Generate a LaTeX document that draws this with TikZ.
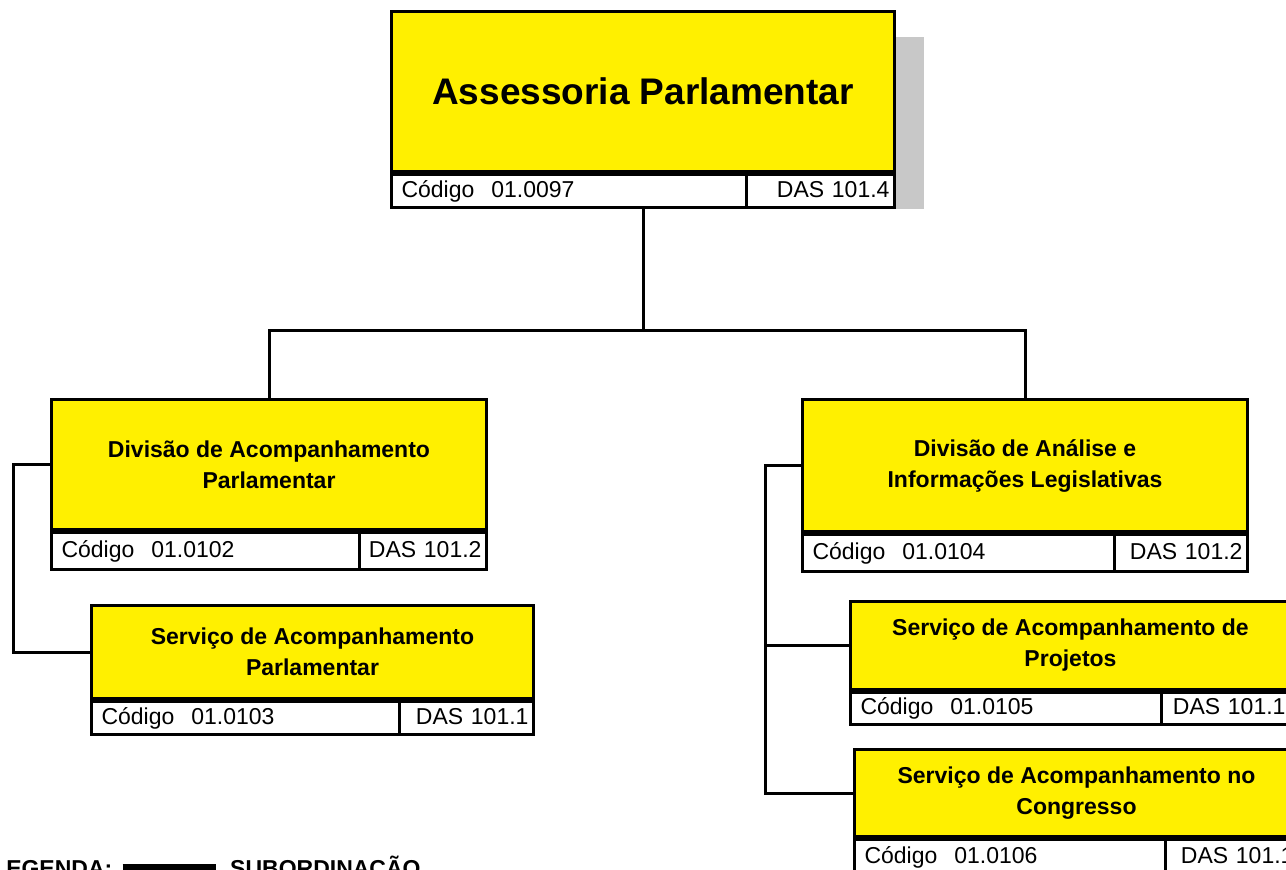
\documentclass[tikz,border=0pt]{standalone}
\usepackage{fontspec}
\setmainfont{Liberation Sans}
\usetikzlibrary{calc,positioning}

\tikzset{
  orgbox/.style={draw, line width=3pt, fill=orgyellow, align=center, inner sep=0pt,
    font=\fontsize{23}{31}\selectfont\bfseries},
  codebox/.style={draw, line width=3pt, fill=white, align=left, inner xsep=10pt, inner ysep=0pt,
    text height=16.5pt, text depth=4.5pt, font=\fontsize{23}{27}\selectfont},
  dasbox/.style={codebox, align=right, inner xsep=5pt},
  link/.style={line width=3pt},
  legend/.style={inner sep=0pt, font=\fontsize{23}{28}\selectfont\bfseries}
}

\begin{document}
\begin{tikzpicture}[x=1pt,y=-1pt]
        \definecolor{orgyellow}{RGB}{255,240,0}
        \definecolor{shadowgray}{RGB}{200,200,200}

        \useasboundingbox (0,0) rectangle (1286,870);
        \clip (0,0) rectangle (1286,870);

        % topo
        \node[orgbox, font=\fontsize{37}{44}\selectfont\bfseries, minimum width=503, minimum height=160,
          anchor=north west] (ap) at (390,10) {Assessoria Parlamentar};
        \node[codebox, text width=335pt, minimum height=33, below right=0pt and 0pt of ap.south west] (ap-cod)
          {Código\hspace{17pt}01.0097};
        \node[dasbox, text width=138pt, minimum height=33, below left=0pt and 0pt of ap.south east] (ap-das)
          {\mbox{DAS 101.4}};
        \fill[shadowgray] ($(ap.north east)+(0,27)$) rectangle ($(ap-das.south east)+(28,0)$);

        % divisoes e servicos
        \foreach \nm/\x/\y/\w/\h/\sh/\dw/\txt/\cod/\das in {
            dap/50/398/435/130/37/127/{Divisão de Acompanhamento\\Parlamentar}/0102/2,
            sap/90/604/442/93/33/134/{Serviço de Acompanhamento\\Parlamentar}/0103/1,
            dal/801/398/445/132/37/133/{Divisão de Análise e\\Informações Legislativas}/0104/2,
            spj/849/600/440/88/32/129/{Serviço de Acompanhamento de\\Projetos}/0105/1,
            scg/853/748/444/87/35/133/{Serviço de Acompanhamento no\\Congresso}/0106/1}
        {
          \pgfmathsetmacro\cw{\w-\dw-20}
          \pgfmathsetmacro\dsw{\dw-10}
          \node[orgbox, minimum width=\w, minimum height=\h, anchor=north west] (\nm) at (\x,\y) {\txt};
          \node[codebox, text width=\cw pt, minimum height=\sh, below right=0pt and 0pt of \nm.south west] (\nm-cod)
            {Código\hspace{17pt}01.\cod};
          \node[dasbox, text width=\dsw pt, minimum height=\sh, below left=0pt and 0pt of \nm.south east] (\nm-das)
            {\mbox{DAS 101.\das}};
        }

        % ligacoes
        \coordinate (bus) at (643,330);
        \draw[link] (ap-cod.south -| bus) -- (bus);
        \draw[link] (dap.north) |- (bus) -| (dal.north);
        \draw[link] (dap.west) -- ++(-37,0) |- (sap.west);
        \draw[link] (dal.west) -- ++(-36,0) coordinate (dalx) |- (scg.west);
        \draw[link] (dalx |- spj.west) -- (spj.west);

        % legenda
        \node[legend, anchor=base west] (leg) at (-8,876) {LEGENDA:};
        \node[legend, anchor=base west] (sub) at (230,876) {SUBORDINAÇÃO};
        \draw[line width=8pt] ([xshift=10pt]leg.east) -- ++(93,0);
\end{tikzpicture}
\end{document}
